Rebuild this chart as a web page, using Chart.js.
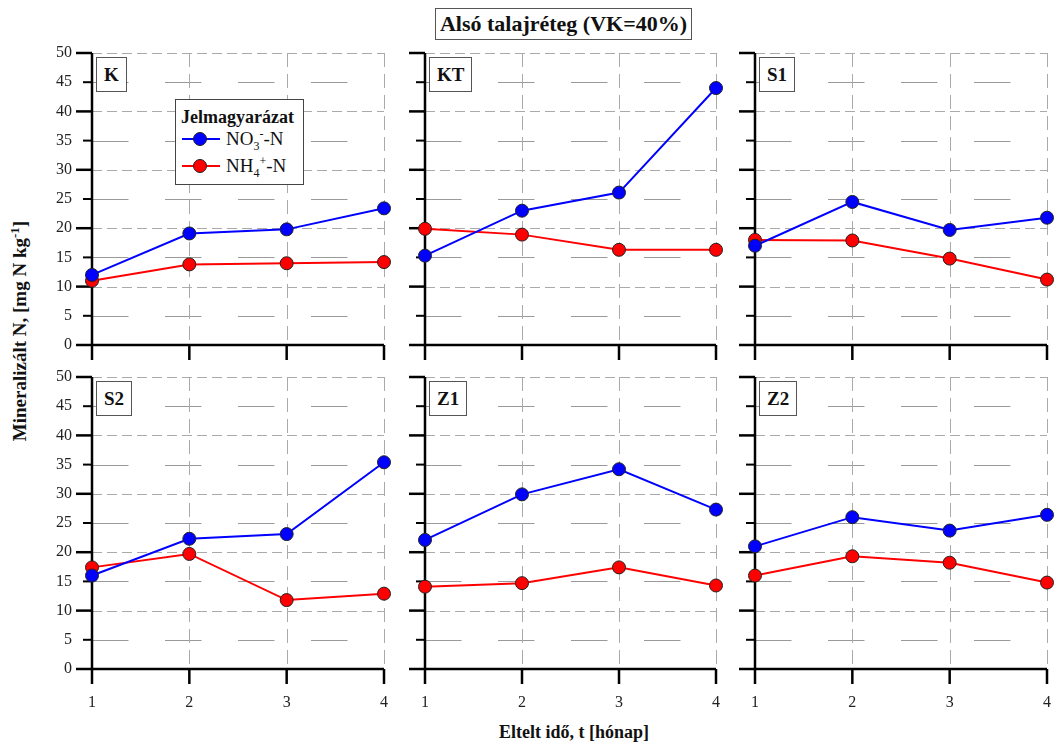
<!DOCTYPE html>
<html>
<head>
<meta charset="utf-8">
<script src="https://cdn.jsdelivr.net/npm/chart.js@4.4.0/dist/chart.umd.min.js"></script>
<style>
  body { margin: 0; background: #fff; width: 1055px; height: 746px; position: relative; overflow: hidden;
         font-family: "Liberation Serif", "Times New Roman", serif; color: #111; }
  canvas { position: absolute; }
  .box { position: absolute; background: #fff; border: 1px solid #555; font-weight: bold; white-space: nowrap; }
  #title { left: 435px; top: 8px; width: 255px; height: 30px; line-height: 30px; font-size: 22px; text-align: center; }
  .plabel { height: 33px; line-height: 33px; font-size: 19px; padding: 0 7px; z-index: 5; }
  #legend { left: 175px; top: 99px; width: 127px; height: 84px; font-weight: normal; z-index: 5; border-color: #444; }
  #legend .lg-title { position: absolute; left: 5px; top: 7px; font-weight: bold; font-size: 18px; line-height: 20px; }
  #legend .lg-row { position: absolute; left: 0; width: 127px; height: 20px; line-height: 20px; font-size: 19px; }
  #legend .lg-line { position: absolute; left: 6px; top: 9px; width: 38px; height: 2px; }
  #legend .lg-dot { position: absolute; left: 17px; top: 3px; width: 12px; height: 12px; border-radius: 50%; border: 1px solid #222; }
  #legend .lg-text { position: absolute; left: 50px; top: 0; }
  sub, sup { font-size: 12px; line-height: 0; }
  #ytitle { position: absolute; left: -130px; top: 321px; width: 300px; height: 20px; line-height: 20px; text-align: center;
            font-weight: bold; font-size: 19px; transform: rotate(-90deg); }
  #ytitle sup { font-size: 13px; }
  #xtitle { position: absolute; left: 424px; top: 722px; width: 300px; text-align: center; font-weight: bold; font-size: 18px; line-height: 20px; }
</style>
</head>
<body>
<div id="title" class="box">Alsó talajréteg (VK=40%)</div>
<div id="ytitle">Mineralizált N, [mg N kg<sup>-1</sup>]</div>
<div id="xtitle">Eltelt idő, t [hónap]</div>
<div id="legend" class="box">
  <div class="lg-title">Jelmagyarázat</div>
  <div class="lg-row" style="top:29px">
    <span class="lg-line" style="background:#0000ff"></span><span class="lg-dot" style="background:#0000ff"></span>
    <span class="lg-text">NO<sub>3</sub><sup>-</sup>-N</span>
  </div>
  <div class="lg-row" style="top:56px">
    <span class="lg-line" style="background:#ff0000"></span><span class="lg-dot" style="background:#ff0000"></span>
    <span class="lg-text">NH<sub>4</sub><sup>+</sup>-N</span>
  </div>
</div>
<script>
// months
const months = [1, 2, 3, 4];
const panelNames = ['K', 'KT', 'S1', 'S2', 'Z1', 'Z2'];

// NO3--N values per panel
const no3_K  = [12.0, 19.1, 19.8, 23.4];
const no3_KT = [15.3, 23.0, 26.1, 44.0];
const no3_S1 = [17.0, 24.5, 19.7, 21.8];
const no3_S2 = [16.0, 22.3, 23.1, 35.4];
const no3_Z1 = [22.1, 29.9, 34.2, 27.3];
const no3_Z2 = [21.0, 26.0, 23.7, 26.4];

// NH4+-N values per panel
const nh4_K  = [11.0, 13.8, 14.0, 14.2];
const nh4_KT = [19.9, 18.9, 16.3, 16.3];
const nh4_S1 = [18.0, 17.9, 14.8, 11.2];
const nh4_S2 = [17.4, 19.7, 11.8, 12.9];
const nh4_Z1 = [14.1, 14.7, 17.4, 14.3];
const nh4_Z2 = [16.0, 19.3, 18.2, 14.8];

const no3Series = [no3_K, no3_KT, no3_S1, no3_S2, no3_Z1, no3_Z2];
const nh4Series = [nh4_K, nh4_KT, nh4_S1, nh4_S2, nh4_Z1, nh4_Z2];

// plot area placement on the page
const colLeft = [92, 425, 755];
const colRight = [384, 716, 1047];
const rowTop = [53, 377];
const rowBottom = [345, 669];
const PL = 60, PT = 12, PR = 12, PB = 50;
const FONT = '"Liberation Serif", "Times New Roman", serif';

// grid + axes drawn like the original (two dash styles, outward ticks)
const paperGrid = {
    id: 'paperGrid',
    beforeDatasetsDraw(chart) {
        const { ctx, chartArea: a, scales: { x, y } } = chart;
        ctx.save();
        ctx.lineWidth = 1;
        // horizontal lines
        y.ticks.forEach(t => {
            const py = Math.round(y.getPixelForValue(t.value)) + 0.5;
            if (t.value === 0) return;
            if (t.value % 10 === 0) {
                ctx.strokeStyle = '#aaaaaa';
                ctx.setLineDash([10, 5]);
            } else {
                ctx.strokeStyle = '#9a9a9a';
                ctx.setLineDash([36.5, 36.5]);
            }
            ctx.beginPath();
            ctx.moveTo(a.left, py);
            ctx.lineTo(a.right, py);
            ctx.stroke();
        });
        // vertical lines
        ctx.strokeStyle = '#aaaaaa';
        ctx.setLineDash([14, 7]);
        x.ticks.forEach(t => {
            if (t.value === 1) return;
            const px = Math.round(x.getPixelForValue(t.value)) + 0.5;
            ctx.beginPath();
            ctx.moveTo(px, a.top);
            ctx.lineTo(px, a.bottom);
            ctx.stroke();
        });
        ctx.setLineDash([]);
        // axes
        ctx.strokeStyle = '#000';
        ctx.lineWidth = 2.5;
        ctx.beginPath();
        ctx.moveTo(a.left, a.top);
        ctx.lineTo(a.left, a.bottom);
        ctx.moveTo(a.left, a.bottom);
        ctx.lineTo(a.right, a.bottom);
        ctx.stroke();
        // y ticks
        y.ticks.forEach(t => {
            const py = y.getPixelForValue(t.value);
            const major = t.value % 10 === 0;
            ctx.lineWidth = major ? 2.5 : 2;
            ctx.beginPath();
            ctx.moveTo(a.left - (major ? 16 : 9), py);
            ctx.lineTo(a.left, py);
            ctx.stroke();
        });
        // x ticks
        ctx.lineWidth = 2.5;
        x.ticks.forEach(t => {
            const px = x.getPixelForValue(t.value);
            ctx.beginPath();
            ctx.moveTo(px, a.bottom);
            ctx.lineTo(px, a.bottom + 15);
            ctx.stroke();
        });
        ctx.restore();
    }
};

function makePanel(idx) {
    const col = idx % 3, row = Math.floor(idx / 3);
    const aL = colLeft[col], aR = colRight[col], aT = rowTop[row], aB = rowBottom[row];

    const cv = document.createElement('canvas');
    cv.width = (aR - aL) + PL + PR;
    cv.height = (aB - aT) + PT + PB;
    cv.style.left = (aL - PL) + 'px';
    cv.style.top = (aT - PT) + 'px';
    document.body.appendChild(cv);

    const label = document.createElement('div');
    label.className = 'box plabel';
    label.textContent = panelNames[idx];
    label.style.left = (aL + 4) + 'px';
    label.style.top = (aT + 4) + 'px';
    document.body.appendChild(label);

    const pointStyle = color => ({
        borderColor: color,
        backgroundColor: color,
        borderWidth: 2,
        pointRadius: 6.5,
        pointBorderWidth: 1,
        pointBorderColor: '#222',
        pointBackgroundColor: color,
        tension: 0,
        clip: false
    });

    new Chart(cv, {
        type: 'line',
        data: {
            datasets: [
                { label: 'NO3--N', data: months.map((m, i) => ({ x: m, y: no3Series[idx][i] })), ...pointStyle('#0000ff') },
                { label: 'NH4+-N', data: months.map((m, i) => ({ x: m, y: nh4Series[idx][i] })), ...pointStyle('#ff0000') }
            ]
        },
        options: {
            responsive: false,
            animation: false,
            layout: { padding: { left: 0, top: PT, right: PR, bottom: 0 } },
            plugins: { legend: { display: false }, tooltip: { enabled: false } },
            scales: {
                x: {
                    type: 'linear', min: 1, max: 4,
                    grid: { display: false, drawTicks: false },
                    border: { display: false },
                    ticks: { display: row === 1, stepSize: 1, padding: 24, color: '#222', font: { family: FONT, size: 16 } },
                    afterFit(s) { s.height = PB; s.paddingLeft = 0; s.paddingRight = 0; }
                },
                y: {
                    min: 0, max: 50,
                    grid: { display: false, drawTicks: false },
                    border: { display: false },
                    ticks: { display: col === 0, stepSize: 5, padding: 20, color: '#222', font: { family: FONT, size: 16 } },
                    afterFit(s) { s.width = PL; s.paddingTop = 0; s.paddingBottom = 0; }
                }
            }
        },
        plugins: [paperGrid]
    });
}

panelNames.forEach((n, i) => makePanel(i));
</script>
</body>
</html>
